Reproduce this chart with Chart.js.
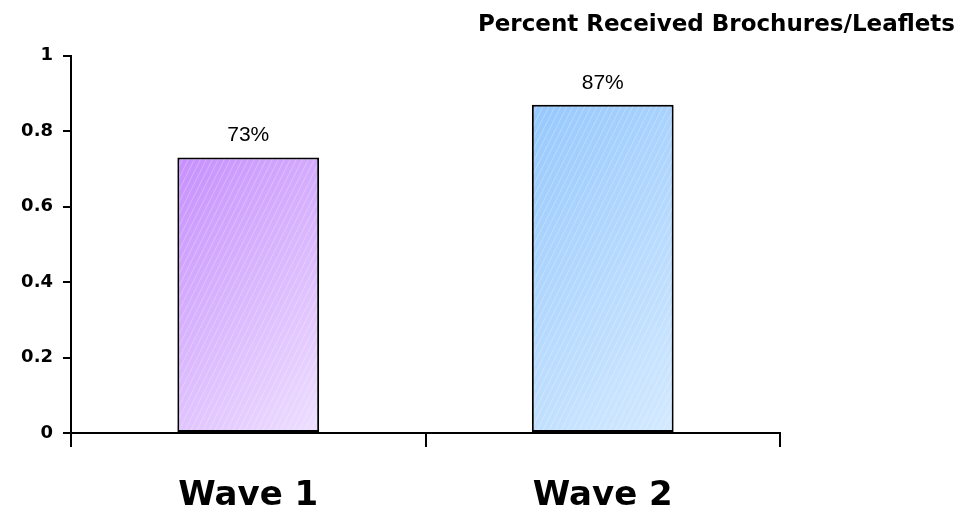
<!DOCTYPE html>
<html>
<head>
<meta charset="utf-8">
<title>Percent Received Brochures/Leaflets</title>
<script src="https://cdn.jsdelivr.net/npm/chart.js@4/dist/chart.umd.min.js"></script>
<style>
  html, body { margin: 0; padding: 0; background: #ffffff; }
  #wrap { width: 961px; height: 514px; position: relative; }
</style>
</head>
<body>
<div id="wrap"><canvas id="chart"></canvas></div>
<script>
// Survey waves and the share of respondents who received brochures/leaflets
const categories = ['Wave 1', 'Wave 2'];
const receivedShare = [0.73, 0.87];
const valueLabels = ['73%', '87%'];
const yTickLabels = ['0', '0.2', '0.4', '0.6', '0.8', '1'];
const chartTitle = 'Percent Received Brochures/Leaflets';

// Per-bar colour ramps (stronger top-left to paler bottom-right)
const rampStart = ['#c68ffd', '#96c8fd'];
const rampEnd = ['#eee0ff', '#d4eaff'];

const BAR_FRACTION = 0.4;
const BAR_BORDER = 2;

function barGradient(ctx) {
  const chart = ctx.chart;
  const xs = chart.scales.x, ys = chart.scales.y;
  const i = ctx.dataIndex;
  if (!xs || !ys || xs.width === undefined) return rampStart[i];
  const cx = xs.getPixelForValue(i);
  const w = xs.width / categories.length * BAR_FRACTION;
  const top = ys.getPixelForValue(receivedShare[i]);
  const base = ys.getPixelForValue(0);
  const left = cx - w / 2;
  // 45 degree ramp that reaches the far corner of the bar
  const d = (w + (base - top)) / 2;
  const g = chart.ctx.createLinearGradient(left, top, left + d, top + d);
  g.addColorStop(0, rampStart[i]);
  g.addColorStop(1, rampEnd[i]);
  return g;
}

// Faint diagonal hatching inside each bar, plus its value label
const barDecor = {
  id: 'barDecor',
  afterDatasetsDraw(chart) {
    const ctx = chart.ctx;
    const meta = chart.getDatasetMeta(0);
    meta.data.forEach((bar, i) => {
      const p = bar.getProps(['x', 'y', 'base', 'width'], true);
      const left = p.x - p.width / 2, right = p.x + p.width / 2;
      const top = Math.min(p.y, p.base), bottom = Math.max(p.y, p.base);
      ctx.save();
      ctx.beginPath();
      ctx.rect(left + BAR_BORDER, top + BAR_BORDER,
               right - left - 2 * BAR_BORDER, bottom - top - 2 * BAR_BORDER);
      ctx.clip();
      ctx.strokeStyle = 'rgba(255,255,255,0.28)';
      ctx.lineWidth = 1;
      const h = bottom - top;
      const slope = 0.5; // horizontal run per unit rise
      for (let x0 = left - h * slope; x0 < right + 8; x0 += 6) {
        ctx.beginPath();
        ctx.moveTo(x0, bottom);
        ctx.lineTo(x0 + h * slope, top);
        ctx.stroke();
      }
      ctx.restore();

      ctx.save();
      ctx.fillStyle = '#000000';
      ctx.font = '21px "Liberation Sans", Arial, sans-serif';
      ctx.textAlign = 'center';
      ctx.textBaseline = 'alphabetic';
      ctx.fillText(valueLabels[i], p.x, p.y - 16);
      ctx.restore();
    });
  }
};

new Chart(document.getElementById('chart'), {
  type: 'bar',
  data: {
    labels: categories,
    datasets: [{
      data: receivedShare,
      backgroundColor: barGradient,
      borderColor: '#000000',
      borderWidth: BAR_BORDER,
      borderSkipped: false,
      barPercentage: BAR_FRACTION,
      categoryPercentage: 1.0
    }]
  },
  options: {
    responsive: true,
    maintainAspectRatio: false,
    animation: false,
    layout: { padding: { left: 0, right: 6, top: 0, bottom: 0 } },
    plugins: {
      legend: { display: false },
      tooltip: { enabled: false },
      title: {
        display: true,
        text: chartTitle,
        align: 'end',
        color: '#000000',
        font: { family: '"DejaVu Sans", Verdana, sans-serif', size: 23, weight: 'bold', lineHeight: 1.2 },
        padding: { top: 11, bottom: 17 }
      }
    },
    scales: {
      x: {
        offset: true,
        grid: {
          offset: true,
          drawOnChartArea: false,
          drawTicks: true,
          tickLength: 14,
          color: '#000000',
          lineWidth: 2
        },
        border: { display: true, color: '#000000', width: 2 },
        ticks: {
          color: '#000000',
          padding: 29,
          font: { family: '"DejaVu Sans", Verdana, sans-serif', size: 34, weight: 'bold' }
        },
        afterFit(scale) { scale.height = 81; }
      },
      y: {
        min: 0,
        max: 1,
        ticks: {
          stepSize: 0.2,
          color: '#000000',
          padding: 10,
          font: { family: '"DejaVu Sans", Verdana, sans-serif', size: 18, weight: 'bold' },
          callback: (v, i) => yTickLabels[i]
        },
        grid: {
          drawOnChartArea: false,
          drawTicks: true,
          tickLength: 8,
          color: '#000000',
          lineWidth: 2
        },
        border: { display: true, color: '#000000', width: 2 },
        afterFit(scale) { scale.width = 71; }
      },
      spacer: {
        position: 'right',
        min: 0,
        max: 1,
        grid: { display: false },
        border: { display: false },
        ticks: { display: false },
        afterFit(scale) { scale.width = 175; }
      }
    }
  },
  plugins: [barDecor]
});
</script>
</body>
</html>
